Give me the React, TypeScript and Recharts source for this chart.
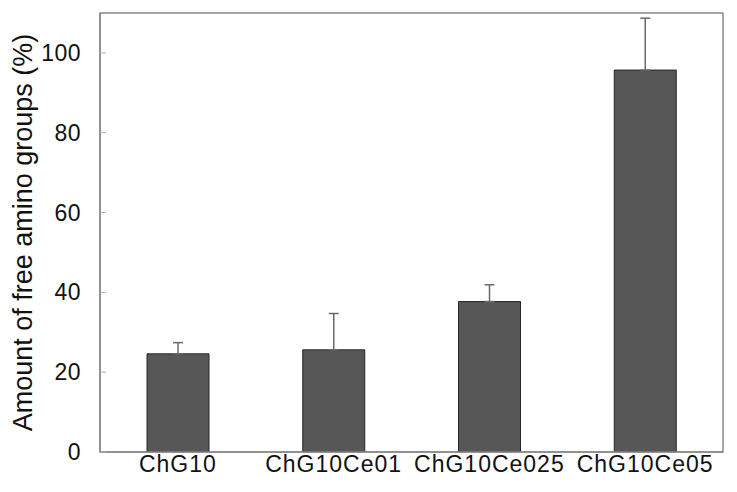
import React from "react";
import { BarChart, Bar, XAxis, YAxis, ErrorBar, Label, ReferenceArea } from "recharts";

const categories = ["ChG10", "ChG10Ce01", "ChG10Ce025", "ChG10Ce05"];
const values = [24.6, 25.6, 37.7, 95.7];
const errors = [2.8, 9.1, 4.2, 13.0];
const yTicks = [0, 20, 40, 60, 80, 100];

const data = categories.map((name, i) => ({
  name,
  value: values[i],
  err: [0, errors[i]],
}));

const FONT = '"Liberation Sans", Arial, Helvetica, sans-serif';

const YTick = (props: any) => {
  const { x, y, payload } = props;
  return (
    <g>
      <line x1={x + 19} x2={x + 25} y1={y} y2={y} stroke="#b0b0b0" strokeWidth={1} />
      <text
        x={x}
        y={y}
        textAnchor="end"
        dominantBaseline="central"
        fontSize={23}
        fontFamily={FONT}
        fill="#111"
        letterSpacing={0.5}
      >
        {payload.value}
      </text>
    </g>
  );
};

const XTick = (props: any) => {
  const { x, y, payload } = props;
  return (
    <text
      x={x}
      y={y}
      dy="0.71em"
      textAnchor="middle"
      fontSize={23}
      fontFamily={FONT}
      fill="#111"
      letterSpacing={1}
    >
      {payload.value}
    </text>
  );
};

const YLabel = (props: any) => {
  const vb = props.viewBox || {};
  const cx = (vb.x || 0) + 15;
  const cy = (vb.y || 0) + (vb.height || 0) / 2;
  return (
    <text
      x={cx}
      y={cy}
      transform={`rotate(-90, ${cx}, ${cy})`}
      textAnchor="middle"
      dominantBaseline="central"
      fontSize={27}
      fontFamily={FONT}
      fill="#111"
    >
      Amount of free amino groups (%)
    </text>
  );
};

export default function App() {
  return (
    <BarChart
      width={729}
      height={484}
      data={data}
      margin={{ top: 5, right: 14, bottom: 0, left: 0 }}
      style={{ fontFamily: FONT }}
    >
      <XAxis
        dataKey="name"
        height={40}
        axisLine={{ stroke: "#8a8a8a", strokeWidth: 1.5 }}
        tickLine={false}
        tickSize={0}
        tickMargin={4}
        tick={<XTick />}
        interval={0}
      />
      <YAxis
        width={92}
        domain={[0, 110]}
        ticks={yTicks}
        allowDataOverflow
        axisLine={{ stroke: "#8a8a8a", strokeWidth: 1.5 }}
        tickLine={false}
        tickSize={0}
        tickMargin={19}
        tick={<YTick />}
      >
        <Label content={<YLabel />} />
      </YAxis>
      <ReferenceArea
        y1={0}
        y2={110}
        fill="none"
        stroke="#8a8a8a"
        strokeWidth={1.5}
        ifOverflow="extendDomain"
      />
      <Bar
        dataKey="value"
        barSize={62}
        fill="#575757"
        stroke="#262626"
        strokeWidth={1}
        isAnimationActive={false}
      >
        <ErrorBar dataKey="err" width={5} stroke="#6a6a6a" strokeWidth={1.5} direction="y" />
      </Bar>
    </BarChart>
  );
}
